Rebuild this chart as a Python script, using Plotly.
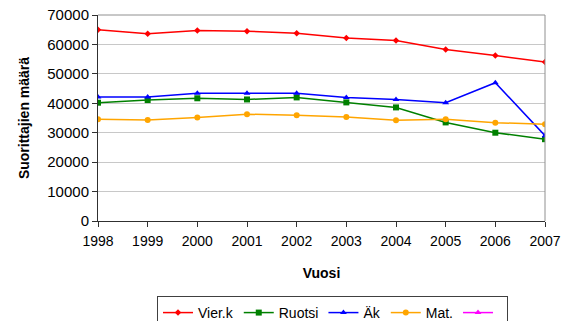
import plotly.graph_objects as go

years = [1998, 1999, 2000, 2001, 2002, 2003, 2004, 2005, 2006, 2007]
vierk = [65000, 63600, 64700, 64500, 63800, 62200, 61300, 58300, 56200, 54000]
ruotsi = [40200, 41100, 41700, 41300, 42000, 40300, 38600, 33500, 30000, 27800]
ak = [42100, 42100, 43400, 43400, 43400, 42000, 41300, 40200, 47000, 29000]
mat = [34600, 34300, 35200, 36300, 35900, 35300, 34200, 34600, 33400, 32900]
empty = [None] * len(years)

series = [
    ("Vier.k", vierk, "#ff0000", "diamond", 5),
    ("Ruotsi", ruotsi, "#008000", "square", 6),
    ("Äk", ak, "#0000ff", "triangle-up", 6),
    ("Mat.", mat, "#ffa500", "circle", 6),
    (" ", empty, "#ff00ff", "triangle-up", 6),
]

fig = go.Figure()
for name, vals, col, sym, sz in series:
    fig.add_trace(go.Scatter(
        x=years, y=vals, name=name, mode="lines+markers",
        line=dict(color=col, width=1.5),
        marker=dict(color=col, symbol=sym, size=sz),
    ))

fig.update_layout(
    width=570, height=321,
    margin=dict(l=98, r=25, t=15, b=100, autoexpand=False),
    paper_bgcolor="white", plot_bgcolor="white",
    font=dict(family="Liberation Sans, Arial, sans-serif", size=13, color="black"),
    showlegend=True,
    legend=dict(
        orientation="h", x=0.5246, xanchor="center", y=-0.364, yanchor="top",
        bordercolor="#404040", borderwidth=1,
        font=dict(size=14), itemwidth=30,
    ),
    xaxis=dict(
        range=[1998, 2007], tickmode="array", tickvals=years,
        ticktext=[str(y) for y in years],
        showgrid=False, showline=True, linecolor="#303030", linewidth=1,
        ticks="outside", ticklen=5, tickcolor="#303030",
        tickfont=dict(size=14), automargin=False, ticklabelstandoff=2,
        title=dict(text="<b>Vuosi</b>", font=dict(size=14), standoff=20),
    ),
    yaxis=dict(
        range=[0, 70000], tickvals=list(range(0, 70001, 10000)),
        tickformat="d",
        showgrid=True, gridcolor="#c8c8c8", gridwidth=1,
        showline=True, linecolor="#303030", linewidth=1,
        ticks="outside", ticklen=5, tickcolor="#303030",
        zeroline=False, automargin=False,
        tickfont=dict(size=15),
        title=dict(text="<b>Suorittajien määrä</b>", font=dict(size=14), standoff=14),
    ),
)

# top and right border (gray)
fig.add_shape(type="line", xref="paper", yref="paper", x0=0, x1=1, y0=1, y1=1,
              line=dict(color="#909090", width=1))
fig.add_shape(type="line", xref="paper", yref="paper", x0=1, x1=1, y0=0, y1=1,
              line=dict(color="#909090", width=1))

fig.write_html("out.html", config={"displayModeBar": False},
               post_script="document.body.style.margin='0';document.body.style.overflow='hidden';")
